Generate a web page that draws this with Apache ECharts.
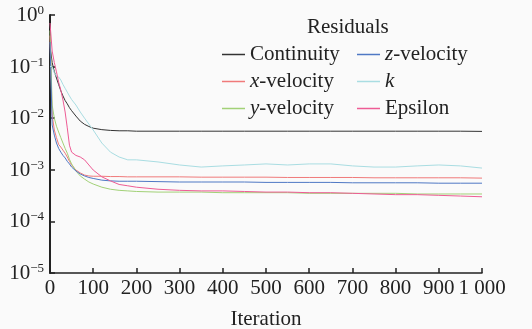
<!DOCTYPE html>
<html>
<head>
<meta charset="utf-8">
<script src="https://cdn.jsdelivr.net/npm/echarts@6/dist/echarts.min.js"></script>
<style>
html,body{margin:0;padding:0;background:#fafafa;}
#c{width:532px;height:329px;}
</style>
</head>
<body>
<div id="c"></div>
<script>
const iterations = [0,5,10,15,20,25,30,35,40,45,50,60,70,80,90,100,120,140,160,180,200,250,300,350,400,450,500,550,600,650,700,750,800,850,900,950,1000];
const continuity = [0.25,0.12,0.08,0.06,0.045,0.034,0.027,0.022,0.019,0.016,0.014,0.011,0.0088,0.0076,0.0069,0.0064,0.006,0.0058,0.0057,0.0057,0.0056,0.0056,0.0056,0.0056,0.0056,0.0056,0.0056,0.0056,0.0056,0.0056,0.0056,0.0056,0.0056,0.0056,0.0056,0.0056,0.00555];
const xVelocity = [0.4,0.0115,0.0059,0.0042,0.0031,0.00276,0.0024,0.0021,0.00177,0.00146,0.00124,0.00099,0.00087,0.00079,0.00076,0.00075,0.00075,0.00074,0.00074,0.00073,0.00073,0.00073,0.00073,0.00072,0.00072,0.00072,0.00072,0.00071,0.00071,0.00071,0.00071,0.0007,0.0007,0.0007,0.0007,0.0007,0.00069];
const yVelocity = [0.5,0.018,0.01,0.007,0.0054,0.0042,0.0033,0.0026,0.0021,0.0016,0.0013,0.00095,0.00076,0.00066,0.00058,0.00053,0.00046,0.00042,0.0004,0.00039,0.00038,0.00037,0.00037,0.00037,0.00036,0.00036,0.00036,0.00036,0.00035,0.00035,0.00035,0.00035,0.00035,0.00034,0.00034,0.00034,0.00034];
const zVelocity = [0.3,0.0074,0.0047,0.0033,0.0026,0.0022,0.0019,0.0017,0.00146,0.0013,0.00113,0.00095,0.00083,0.00076,0.00071,0.00068,0.00063,0.00061,0.0006,0.0006,0.0006,0.00059,0.00058,0.00058,0.00058,0.00058,0.00057,0.00057,0.00057,0.00057,0.00056,0.00056,0.00056,0.00056,0.00055,0.00055,0.00055];
const kValues = [0.1,0.1,0.075,0.065,0.063,0.055,0.045,0.038,0.032,0.027,0.023,0.018,0.0132,0.01,0.0077,0.0059,0.0033,0.0022,0.00177,0.00156,0.00156,0.00142,0.00124,0.00113,0.00119,0.00124,0.0013,0.00124,0.0013,0.0013,0.00119,0.00113,0.00113,0.00119,0.00124,0.00119,0.00108];
const epsilon = [0.7,0.2,0.12,0.079,0.05,0.035,0.0225,0.0132,0.0065,0.003,0.0022,0.0019,0.00177,0.00156,0.00124,0.00099,0.00073,0.00061,0.00052,0.00049,0.00046,0.00042,0.0004,0.00039,0.00039,0.00038,0.00037,0.00037,0.00036,0.00036,0.00035,0.00034,0.00033,0.00033,0.00032,0.00031,0.0003];
const xTicks = [0,100,200,300,400,500,600,700,800,900,1000];
const yTicks = [1e-5,1e-4,1e-3,1e-2,1e-1,1];

const FONT = '"Liberation Serif","DejaVu Serif",serif';
const TXT = '#222';

const seriesDefs = [
  {name:'Continuity', data: continuity, color:'#333333'},
  {name:'x-velocity', data: xVelocity, color:'#f07a7a'},
  {name:'y-velocity', data: yVelocity, color:'#a2d177'},
  {name:'z-velocity', data: zVelocity, color:'#4f78c4'},
  {name:'k', data: kValues, color:'#a9dde2'},
  {name:'Epsilon', data: epsilon, color:'#ee5c95'}
];

const chart = echarts.init(document.getElementById('c'), null, {renderer:'canvas'});

function legendFmt(name){
  return name.replace(/^([xyzk])/, '{i|$1}');
}
const legendText = {
  fontSize: 21, fontFamily: FONT, color: TXT,
  rich: { i: {fontStyle:'italic', fontSize:21, fontFamily: FONT, color: TXT} }
};

chart.setOption({
  backgroundColor: '#fafafa',
  animation: false,
  title: {
    text: 'Residuals', left: 307, top: 17, padding: 0,
    textStyle: {fontSize: 21, fontWeight: 'normal', fontFamily: FONT, color: TXT}
  },
  legend: [
    {
      data: ['Continuity','x-velocity','y-velocity'],
      orient: 'vertical', left: 222, top: 44, padding: 0, itemGap: 6,
      icon: 'rect', itemWidth: 23, itemHeight: 1.5,
      formatter: legendFmt, textStyle: legendText
    },
    {
      data: ['z-velocity','k','Epsilon'],
      orient: 'vertical', left: 357, top: 44, padding: 0, itemGap: 6,
      icon: 'rect', itemWidth: 23, itemHeight: 1.5,
      formatter: legendFmt, textStyle: legendText
    }
  ],
  grid: {left: 50, right: 50, top: 15, bottom: 56, containLabel: false, outerBoundsMode: 'none'},
  xAxis: {
    type: 'value', min: 0, max: 1000, interval: 100,
    name: 'Iteration', nameLocation: 'middle', nameGap: 36,
    nameTextStyle: {fontSize: 21, fontFamily: FONT, color: TXT},
    axisLine: {lineStyle: {color: '#222', width: 1.5}},
    axisTick: {inside: true, length: 5, lineStyle: {color: '#222', width: 1.5}},
    axisLabel: {
      margin: 5, fontSize: 21, fontFamily: FONT, color: TXT,
      formatter: function(v){ return v === 1000 ? '1 000' : String(v); }
    },
    splitLine: {show: false}
  },
  yAxis: {
    type: 'log', logBase: 10, min: yTicks[0], max: yTicks[yTicks.length-1],
    axisLine: {show: true, lineStyle: {color: '#222', width: 2}},
    axisTick: {show: true, inside: true, length: 5, lineStyle: {color: '#222', width: 1.5}},
    minorTick: {show: false},
    axisLabel: {
      margin: 6, fontSize: 21, fontFamily: FONT, color: TXT,
      formatter: function(v){
        const e = Math.round(Math.log10(v));
        return '{b|10}{s|' + (e === 0 ? '0' : '\u2212' + Math.abs(e)) + '}';
      },
      rich: {
        b: {fontSize: 21, fontFamily: FONT, color: TXT, lineHeight: 22, verticalAlign: 'bottom'},
        s: {fontSize: 13, fontFamily: FONT, color: TXT, lineHeight: 13, verticalAlign: 'top', padding: [0,0,10,0]}
      }
    },
    splitLine: {show: false}
  },
  series: seriesDefs.map(function(s){
    return {
      name: s.name, type: 'line', showSymbol: false, symbol: 'none',
      color: s.color,
      lineStyle: {color: s.color, width: 1},
      data: iterations.map(function(it, i){ return [it, s.data[i]]; })
    };
  })
});
</script>
</body>
</html>
